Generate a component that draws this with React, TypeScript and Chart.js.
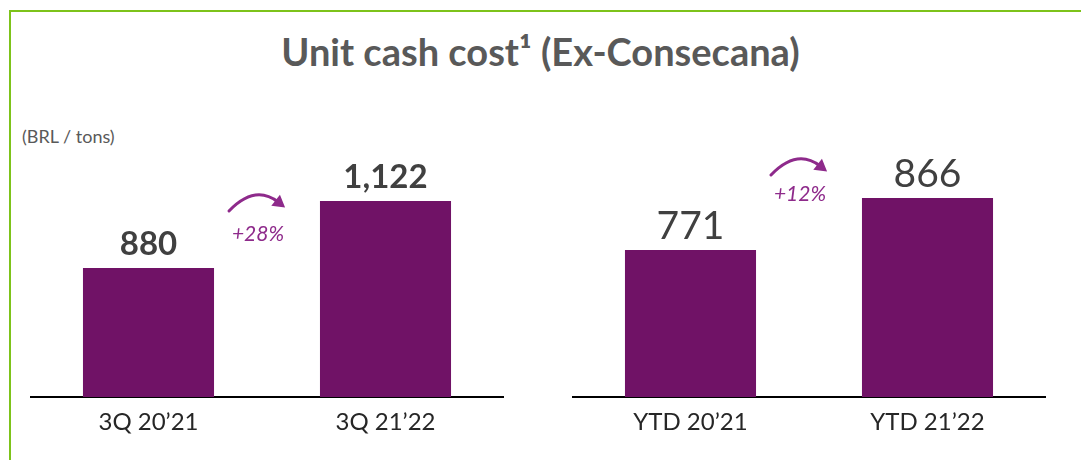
import React, { useEffect, useRef } from "react";
import { Chart, registerables } from "chart.js";

Chart.register(...registerables);

const leftCategories = ["3Q 20’21", "3Q 21’22"];
const leftValues = [880, 1122];
const leftChange = "+28%";

const rightCategories = ["YTD 20’21", "YTD 21’22"];
const rightValues = [771, 866];
const rightChange = "+12%";

const BAR = "#701266";
const ACCENT = "#8e2a8b";
const FONT = "Lato, 'Open Sans', sans-serif";

type PanelProps = {
  categories: string[];
  values: number[];
  change: string;
  yMin: number;
  yMax: number;
  valueBold: boolean;
  valueSize: number;
  valueGap: number;
  arrowY: number;
  pctY: number;
};

const annotPlugin = {
  id: "annot",
  afterDatasetsDraw(chart: any, _args: any, opts: any) {
    const ctx = chart.ctx;
    const meta = chart.getDatasetMeta(0);
    const els = meta.data;
    ctx.save();
    // value labels
    ctx.fillStyle = "#404040";
    ctx.textAlign = "center";
    ctx.textBaseline = "alphabetic";
    ctx.font = `${opts.valueBold ? "bold " : ""}${opts.valueSize}px ${FONT}`;
    els.forEach((el: any, i: number) => {
      const v = chart.data.datasets[0].data[i];
      ctx.fillText(v.toLocaleString("en-US"), el.x, el.y - opts.valueGap);
    });
    // arrow
    const midX = (els[0].x + els[1].x) / 2 - 9;
    const ay = opts.arrowY;
    const sx = midX - 29, sy = ay;
    const cx = midX - 3, cy = ay - 27;
    const ex = midX + 20, ey = ay - 9;
    ctx.strokeStyle = ACCENT;
    ctx.fillStyle = ACCENT;
    ctx.lineWidth = 3;
    ctx.lineCap = "round";
    ctx.beginPath();
    ctx.moveTo(sx, sy);
    ctx.quadraticCurveTo(cx, cy, ex, ey);
    ctx.stroke();
    const ang = Math.atan2(ey - cy, ex - cx);
    const L = 12, W = 7;
    const tx = ex + Math.cos(ang) * 9, ty = ey + Math.sin(ang) * 9;
    ctx.beginPath();
    ctx.moveTo(tx, ty);
    ctx.lineTo(tx - Math.cos(ang) * L - Math.sin(ang) * W, ty - Math.sin(ang) * L + Math.cos(ang) * W);
    ctx.lineTo(tx - Math.cos(ang) * L + Math.sin(ang) * W, ty - Math.sin(ang) * L - Math.cos(ang) * W);
    ctx.closePath();
    ctx.fill();
    // percent label
    ctx.font = `italic 21px ${FONT}`;
    ctx.textBaseline = "middle";
    ctx.fillText(opts.change, midX, opts.pctY);
    ctx.restore();
  },
};

function Panel(p: PanelProps & { left: number; top: number }) {
  const ref = useRef<HTMLCanvasElement>(null);
  useEffect(() => {
    if (!ref.current) return;
    const chart = new Chart(ref.current, {
      type: "bar",
      data: {
        labels: p.categories,
        datasets: [
          {
            data: p.values,
            backgroundColor: BAR,
            borderWidth: 0,
            barPercentage: 0.553,
            categoryPercentage: 1,
          },
        ],
      },
      options: {
        animation: false,
        responsive: false,
        maintainAspectRatio: false,
        layout: { padding: 0 },
        plugins: {
          legend: { display: false },
          tooltip: { enabled: false },
          title: { display: false },
          annot: {
            valueBold: p.valueBold,
            valueSize: p.valueSize,
            valueGap: p.valueGap,
            arrowY: p.arrowY - p.top,
            pctY: p.pctY - p.top,
            change: p.change,
          },
        } as any,
        scales: {
          y: { display: false, min: p.yMin, max: p.yMax },
          x: {
            grid: { display: false, drawTicks: false },
            border: { display: true, color: "#000000", width: 2 },
            ticks: {
              color: "#262626",
              font: { family: FONT, size: 24 },
              padding: 11,
            },
            afterFit: (scale: any) => {
              scale.height = 43;
            },
          },
        },
      },
      plugins: [annotPlugin],
    });
    return () => chart.destroy();
  }, []);
  return (
    <div style={{ position: "absolute", left: p.left, top: p.top, width: 474, height: 290 }}>
      <canvas ref={ref} width={474} height={290} style={{ width: 474, height: 290 }} />
    </div>
  );
}

export default function App() {
  return (
    <div
      style={{
        position: "fixed",
        left: 0,
        top: 0,
        width: 1081,
        height: 460,
        overflow: "hidden",
        background: "#ffffff",
        fontFamily: FONT,
      }}
    >
      <div
        style={{
          position: "absolute",
          left: 9,
          top: 10,
          width: 1100,
          height: 480,
          borderTop: "2px solid #7dc31a",
          borderLeft: "2px solid #7dc31a",
        }}
      />
      <div
        style={{
          position: "absolute",
          left: 0,
          width: 1081,
          top: 28,
          textAlign: "center",
          fontWeight: 700,
          fontSize: 38,
          color: "#595959",
          lineHeight: "46px",
        }}
      >
        Unit cash cost¹ (Ex-Consecana)
      </div>
      <div
        style={{
          position: "absolute",
          left: 22,
          top: 125,
          fontSize: 18,
          color: "#595959",
          lineHeight: "22px",
        }}
      >
        (BRL / tons)
      </div>
      <Panel
        left={30}
        top={150}
        categories={leftCategories}
        values={leftValues}
        change={leftChange}
        yMin={414.1}
        yMax={1306.2}
        valueBold={true}
        valueSize={33}
        valueGap={13}
        arrowY={211}
        pctY={234}
      />
      <Panel
        left={572}
        top={150}
        categories={rightCategories}
        values={rightValues}
        change={rightChange}
        yMin={502.4}
        yMax={953.7}
        valueBold={false}
        valueSize={39}
        valueGap={11}
        arrowY={175}
        pctY={194}
      />
    </div>
  );
}
